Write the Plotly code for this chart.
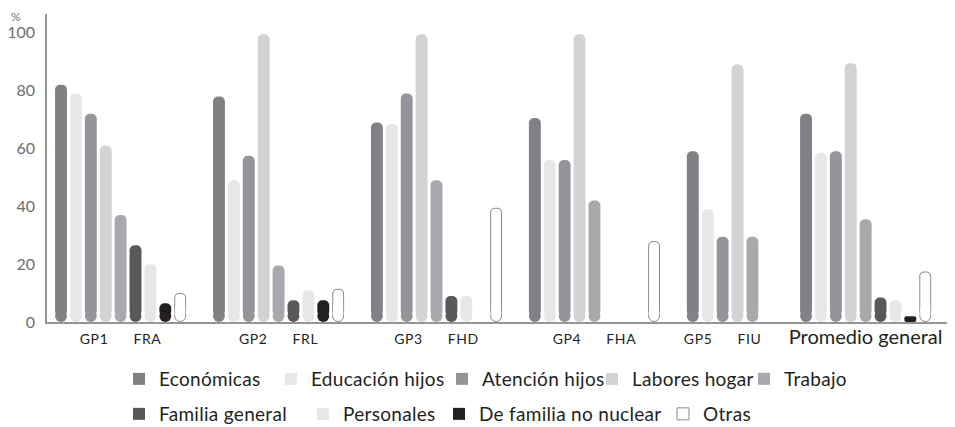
import plotly.graph_objects as go

# grupos (etiquetas del eje x)
grupos = ["GP1", "GP2", "GP3", "GP4", "GP5", "Promedio general"]
familias = ["FRA", "FRL", "FHD", "FHA", "FIU", ""]

# porcentajes por motivo (None = sin barra)
economicas = [82, 78, 69, 70.5, 59, 72]
educacion_hijos = [79, 49, 68.5, 56, 39, 58.5]
atencion_hijos = [72, 57.5, 79, 56, 29.5, 59]
labores_hogar = [61, 99.5, 99.5, 99.5, 89, 89.5]
trabajo = [37, 19.5, 49, 42, 29.5, 35.5]
familia_general = [26.5, 7.5, 9, None, None, 8.5]
personales = [20, 11, 9, None, None, 7.5]
familia_no_nuclear = [6.5, 7.5, None, None, None, 2]
otras = [10, 11.5, 39.5, 28, None, 17.5]

series = [
    ("Económicas", economicas, "#808184"),
    ("Educación hijos", educacion_hijos, "#e6e7e8"),
    ("Atención hijos", atencion_hijos, "#939598"),
    ("Labores hogar", labores_hogar, "#d1d3d4"),
    ("Trabajo", trabajo, "#a7a9ac"),
    ("Familia general", familia_general, "#58595b"),
    ("Personales", personales, "#e6e7e8"),
    ("De familia no nuclear", familia_no_nuclear, "#231f20"),
    ("Otras", otras, "#ffffff"),
]
outline = "#8a8b8e"

# the page draws the figure inside the body's 8px margin
off = 8
W, H = 955 - off, 427 - off

# slots (one per bar) inside each group
group_slots = [9, 9, 9, 9, 6, 9]
gap = 1.6
bar_w = 0.8
ymax = 106.5
px_y = ymax / 308.0        # data units per pixel (y)
px_x = 60.4 / 900.0        # data units per pixel (x)
r_px = bar_w / px_x / 2    # half bar width in pixels
r_u = r_px * px_y

starts = []
s = 0
for n in group_slots:
    starts.append(s)
    s += n + gap

font = "Lato"
fig = go.Figure()
caps = []  # scatter caps go on top of the bars

for i, (name, vals, color) in enumerate(series):
    xs = [starts[g] + i for g in range(len(grupos))]
    base = [None if v is None else (r_u if v >= 2 * r_u else 0) for v in vals]
    length = [None if v is None else v - b for v, b in zip(vals, base)]
    cap_y = [r_u if (v is not None and v >= 2 * r_u) else None for v in vals]
    if name == "Otras":
        fig.add_trace(go.Bar(x=xs, y=length, base=base, width=bar_w,
                             marker=dict(color=outline, line_width=0, cornerradius="50%"),
                             showlegend=False, hoverinfo="skip"))
        inner = [None if v is None else v - px_y - b for v, b in zip(vals, base)]
        fig.add_trace(go.Bar(x=xs, y=inner, base=base, width=bar_w - 2 * px_x,
                             marker=dict(color=color, line_width=0, cornerradius="50%"),
                             showlegend=False, hoverinfo="skip"))
        caps.append(go.Scatter(x=xs, y=cap_y, mode="markers", showlegend=False, hoverinfo="skip",
                               marker=dict(symbol="circle", size=2 * r_px - 1, color=color,
                                           line=dict(color=outline, width=1))))
        cover = [None if c is None else c + (r_px - 1) * px_y for c in cap_y]
        caps.append(go.Scatter(x=xs, y=cover, mode="markers", showlegend=False, hoverinfo="skip",
                               marker=dict(symbol="square", size=2 * r_px - 2, color=color,
                                           line_width=0)))
    else:
        fig.add_trace(go.Bar(x=xs, y=length, base=base, width=bar_w,
                             marker=dict(color=color, line_width=0, cornerradius="50%"),
                             showlegend=False, hoverinfo="skip"))
        caps.append(go.Scatter(x=xs, y=cap_y, mode="markers", showlegend=False, hoverinfo="skip",
                               marker=dict(symbol="circle", size=2 * r_px, color=color,
                                           line_width=0)))

for c in caps:
    fig.add_trace(c)

# legend: one small legend per entry, placed like the original
leg_x = [143, 295, 466, 616, 768, 143, 327, 463, 687]
leg_y = [379] * 5 + [414] * 4
legends = {}
for i, (name, vals, color) in enumerate(series):
    key = "legend" if i == 0 else "legend%d" % (i + 1)
    fig.add_trace(go.Bar(
        x=[None], y=[None], name='<span style="letter-spacing:0.3px">' + name + "</span>",
        marker=dict(color=color, line=dict(color=outline if name == "Otras" else color,
                                           width=1 if name == "Otras" else 0)),
        legend=key, showlegend=True))
    legends[key] = dict(orientation="h", xref="container", yref="container",
                        x=(leg_x[i] - 24 - off) / W, y=1 - (leg_y[i] - off) / H,
                        xanchor="left", yanchor="middle",
                        font=dict(family=font, size=19, color="#231f20"),
                        bgcolor="rgba(0,0,0,0)")

# tick positions: centre of the bars present in each group
tickvals = []
ticktext = []
for g, lab in enumerate(grupos):
    present = [i for i, (_, vals, _) in enumerate(series) if vals[g] is not None]
    tickvals.append(starts[g] + (min(present) + max(present)) / 2)
    if familias[g]:
        ticktext.append('<span style="letter-spacing:0.6px">' + lab
                        + "\u00a0" * 6 + familias[g] + "</span>")
    else:
        ticktext.append('<span style="font-size:20px">' + lab + "</span>")

fig.update_layout(
    width=W, height=H,
    margin=dict(l=47 - off, r=W - (947 - off), t=14 - off, b=H - (322 - off)),
    paper_bgcolor="white", plot_bgcolor="white",
    barmode="overlay",
    font=dict(family=font, color="#231f20"),
    xaxis=dict(range=[-0.94, 59.46], showgrid=False, zeroline=False, automargin=False,
               showline=True, linecolor="#939598", linewidth=1.5,
               tickvals=tickvals, ticktext=ticktext, ticks="",
               ticklabelstandoff=3,
               tickfont=dict(family=font, size=14, color="#231f20")),
    yaxis=dict(range=[0, ymax], showgrid=False, zeroline=False, automargin=False,
               showline=True, linecolor="#939598", linewidth=1.5,
               tickvals=[0, 20, 40, 60, 80, 100], ticks="",
               ticklabelstandoff=7,
               tickfont=dict(family=font, size=16, color="#6d6e71")),
    annotations=[dict(text="%", xref="paper", yref="paper", x=-0.034, y=1 + 6 / 308,
                      xanchor="center", yanchor="top", showarrow=False, borderpad=0,
                      font=dict(family=font, size=12, color="#6d6e71"))],
    **legends,
)

fig.write_html("out.html")
